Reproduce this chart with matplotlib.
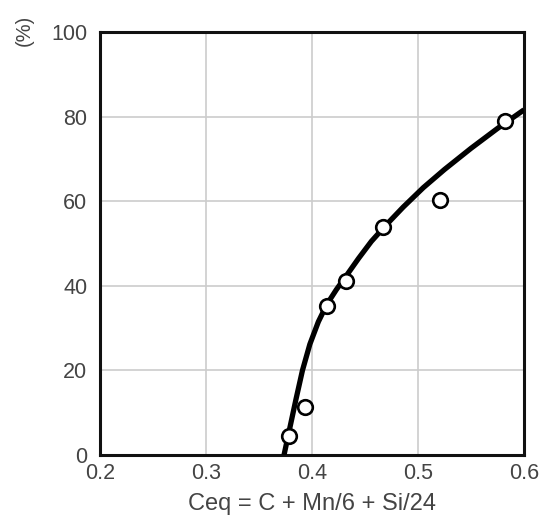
import matplotlib
matplotlib.use("Agg")
import matplotlib.pyplot as plt

# measured points
ceq_pts = [0.378, 0.393, 0.414, 0.432, 0.467, 0.521, 0.582]
pct_pts = [4.5, 11.4, 35.2, 41.2, 54.0, 60.3, 79.0]

# fitted curve
ceq_curve = [0.3736, 0.379, 0.385, 0.391, 0.398, 0.406, 0.414, 0.423, 0.433,
             0.444, 0.456, 0.470, 0.486, 0.505, 0.525, 0.550, 0.575, 0.600]
pct_curve = [0.0, 6.3, 13.3, 20.0, 26.2, 31.5, 35.6, 39.1, 42.6,
             46.5, 50.5, 54.4, 58.6, 63.2, 67.5, 72.5, 77.2, 81.6]

x_ticks = [0.2, 0.3, 0.4, 0.5, 0.6]
y_ticks = [0, 20, 40, 60, 80, 100]

plt.rcParams['font.family'] = ['Liberation Sans', 'DejaVu Sans']
txt_color = '#444444'
fs = 15.5

fig = plt.figure(figsize=(5.41, 5.20), dpi=100)
ax = fig.add_axes([100/541, 65/520, 424/541, 423/520])

ax.plot(ceq_curve, pct_curve, color='black', lw=3.8, solid_joinstyle='round',
        solid_capstyle='butt', zorder=3)
ax.plot(ceq_pts, pct_pts, 'o', ms=10.5, mfc='white', mec='black', mew=1.9, zorder=4)

ax.set_xlim(0.2, 0.6)
ax.set_ylim(0, 100)
ax.set_xticks(x_ticks, [f"{v:.1f}" for v in x_ticks])
ax.set_yticks(y_ticks, [str(v) for v in y_ticks])
ax.grid(True, color='#cccccc', lw=1.2)
ax.set_axisbelow(True)
ax.tick_params(axis='both', length=0, labelsize=fs, labelcolor=txt_color)
ax.tick_params(axis='x', pad=6)
ax.tick_params(axis='y', pad=9)
for sp in ax.spines.values():
    sp.set_linewidth(2.2)
    sp.set_color('#111111')

ax.set_xlabel("Ceq = C + Mn/6 + Si/24", fontsize=fs + 1.5, color=txt_color, labelpad=6)
fig.text(24/541, 1 - 30/520, "(%)", rotation=90, ha='center', va='center',
         fontsize=fs - 1, color=txt_color)

fig.savefig("out.png", dpi=100)
